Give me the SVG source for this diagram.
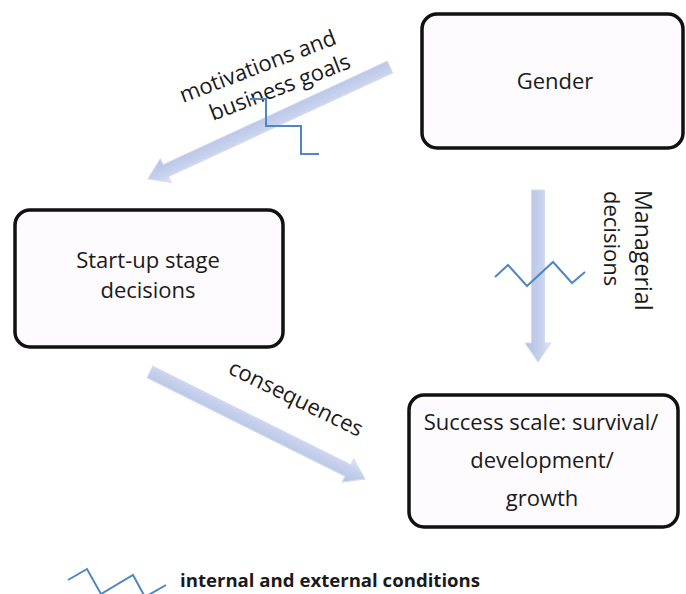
<svg xmlns="http://www.w3.org/2000/svg" width="686" height="594" viewBox="0 0 686 594">
<defs>
<linearGradient id="shaft" gradientUnits="userSpaceOnUse" x1="0" y1="-13" x2="0" y2="13">
<stop offset="0" stop-color="#e3e8f6"/>
<stop offset="0.35" stop-color="#c9d2ed"/>
<stop offset="1" stop-color="#b4c1e5"/>
</linearGradient>
<style>
.box{fill:#fdfbfe;stroke:#111;stroke-width:3.5}
.t{font-family:"Open Sans","Liberation Sans",Arial,sans-serif;font-size:22px;fill:#1a1a1a}
.arr{fill:url(#shaft);stroke:#d3dbf0;stroke-width:1}
.zz{fill:none;stroke:#4f86c6;stroke-width:2;stroke-linejoin:miter}
</style>
</defs>
<rect width="686" height="594" fill="#ffffff"/>

<g id="connectors">
<polygon class="arr" transform="translate(390,67) rotate(155.2)" points="0,-6.5 247,-6.5 247,-13 266.7,0 247,13 247,6.5 0,6.5"/>
<polygon class="arr" transform="translate(538,190) rotate(90)" points="0,-6.5 153,-6.5 153,-13 172,0 153,13 153,6.5 0,6.5"/>
<polygon class="arr" transform="translate(150,372) rotate(26.46)" points="0,-6.5 221,-6.5 221,-13 240.2,0 221,13 221,6.5 0,6.5"/>
<text class="t" transform="translate(183,103) rotate(-21)">motivations and</text>
<text class="t" transform="translate(213,121) rotate(-21)">business goals</text>
<text class="t" transform="translate(635,190) rotate(90)" style="font-size:23.2px">Managerial</text>
<text class="t" transform="translate(604,191) rotate(90)">decisions</text>
<text class="t" transform="translate(227,373) rotate(26)">consequences</text>
<polyline class="zz" points="250,99 266,99 266,126 301,126 301,154 319,154"/>
<polyline class="zz" points="495,277 508,265 527,286 553,262 572,283 585,272"/>
</g>

<g id="gender">
<rect class="box" x="422" y="14" width="261" height="134" rx="15"/>
<text class="t" x="555" y="89" text-anchor="middle">Gender</text>
</g>

<g id="startup">
<rect class="box" x="15" y="210" width="268" height="137" rx="15"/>
<text class="t" x="148" y="268" text-anchor="middle">Start-up stage</text>
<text class="t" x="148" y="298" text-anchor="middle">decisions</text>
</g>

<g id="success">
<rect class="box" x="409" y="395" width="269" height="132" rx="15"/>
<text class="t" x="541" y="430" text-anchor="middle">Success scale: survival/</text>
<text class="t" x="542" y="468" text-anchor="middle">development/</text>
<text class="t" x="542" y="506" text-anchor="middle">growth</text>
</g>

<g id="legend">
<polyline class="zz" points="68,580 87,569 101,594 133,575 145,597 166,585"/>
<text class="t" x="180" y="587" style="font-weight:bold;font-size:18.6px">internal and external conditions</text>
</g>
</svg>
